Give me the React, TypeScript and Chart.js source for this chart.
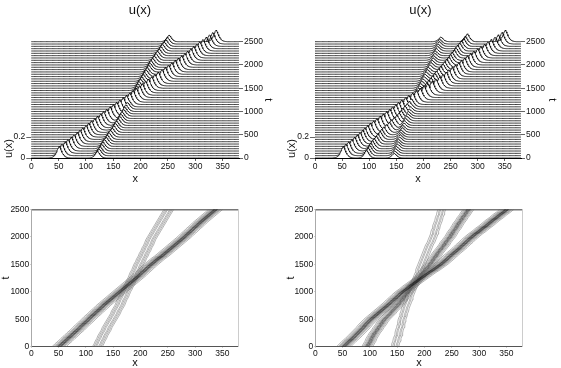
import React, { useEffect, useRef } from "react";
import { Chart, registerables } from "chart.js";

Chart.register(...registerables);

const xTicks = [0, 50, 100, 150, 200, 250, 300, 350];
const tTicks = [0, 500, 1000, 1500, 2000, 2500];
const uTicks = [0, 0.2];
const times = [
  0, 50, 100, 150, 200, 250, 300, 350, 400, 450, 500, 550, 600, 650, 700, 750, 800, 850, 900, 950, 1000, 1050, 1100, 1150, 1200, 1250,
  1300, 1350, 1400, 1450, 1500, 1550, 1600, 1650, 1700, 1750, 1800, 1850, 1900, 1950, 2000, 2050, 2100, 2150, 2200, 2250, 2300, 2350, 2400, 2450, 2500,
];

// Soliton centres, one value per time
const leftBig = [
  51, 56, 62, 67, 73, 78, 84, 89, 94, 100, 105, 110, 116, 121, 127, 132, 138, 144, 150, 156, 162, 168, 174, 180, 186, 192,
  198, 203, 209, 214, 220, 226, 232, 239, 245, 251, 257, 263, 269, 275, 281, 286, 292, 297, 303, 308, 314, 320, 326, 332, 338,
];
const leftSmall = [
  121, 124, 126, 129, 131, 134, 137, 139, 142, 145, 148, 151, 154, 156, 159, 162, 164, 166, 169, 171, 173, 176, 178, 181, 183, 186,
  188, 190, 193, 195, 197, 200, 202, 205, 207, 210, 212, 215, 217, 219, 222, 225, 228, 231, 234, 237, 240, 243, 246, 249, 252,
];
const rightBig = [
  52, 57, 62, 68, 73, 78, 83, 88, 92, 97, 102, 108, 114, 120, 126, 132, 138, 143, 149, 154, 160, 167, 173, 180, 187, 194,
  201, 208, 216, 223, 230, 236, 242, 247, 253, 259, 265, 270, 276, 281, 287, 293, 300, 306, 313, 319, 325, 332, 338, 345, 351,
];
const rightMid = [
  95, 98, 101, 103, 106, 109, 113, 116, 120, 123, 127, 132, 137, 141, 146, 151, 155, 159, 162, 166, 170, 174, 178, 182, 186, 190,
  194, 198, 202, 206, 210, 214, 217, 221, 224, 228, 232, 236, 239, 243, 247, 250, 253, 257, 260, 263, 267, 270, 274, 277, 281,
];
const rightSmall = [
  146, 147, 149, 150, 152, 153, 154, 156, 157, 158, 159, 161, 162, 164, 165, 167, 169, 171, 172, 174, 176, 178, 180, 182, 184, 186,
  188, 190, 191, 193, 195, 197, 199, 201, 203, 205, 207, 209, 212, 214, 216, 218, 219, 221, 222, 224, 226, 227, 229, 230, 232,
];

// Pulse profile by distance from the centre (1 x-unit steps)
const wideProfile = [1, 0.93, 0.85, 0.74, 0.62, 0.5, 0.41, 0.33, 0.26, 0.2, 0.16, 0.12, 0.09, 0.07, 0.05, 0.04, 0.03, 0.02, 0.015, 0.01, 0.005, 0];
const narrowProfile = [1, 0.92, 0.82, 0.7, 0.58, 0.46, 0.36, 0.28, 0.21, 0.15, 0.11, 0.08, 0.05, 0.03, 0.02, 0.01, 0];

// Contour-line distances from the ridge
const bigOffsets = [-13, -10, -8, -6.5, -5, -3.8, -2.7, -1.7, -0.8, 0.8, 1.7, 2.7, 3.8, 5, 6.5, 8, 10, 13];
const midOffsets = [-10, -7.5, -5.5, -3.6, -2, -0.8, 0.8, 2, 3.6, 5.5, 7.5, 10];
const smallOffsets = [-9, -6.5, -4, -1.8, 1.8, 4, 6.5, 9];
const faintOffsets = [-7, -4, -1.8, 1.8, 4, 7];

const leftTracks = [
  { centres: leftBig, amp: 0.11, profile: wideProfile, offsets: bigOffsets, core: 5 },
  { centres: leftSmall, amp: 0.064, profile: narrowProfile, offsets: smallOffsets, core: 0 },
];
const rightTracks = [
  { centres: rightBig, amp: 0.11, profile: wideProfile, offsets: bigOffsets, core: 5 },
  { centres: rightMid, amp: 0.075, profile: narrowProfile, offsets: midOffsets, core: 4 },
  { centres: rightSmall, amp: 0.045, profile: narrowProfile, offsets: faintOffsets, core: 0 },
];

const U_TO_T = 2257;
const X_MAX = 380;
const FONT = "'Liberation Sans', Arial, sans-serif";
const INK = "#111";

function waterfallDatasets(tracks: typeof leftTracks) {
  return times.map((t, row) => {
    const data = [];
    for (let x = 0; x <= X_MAX; x++) {
      let u = 0;
      for (const tr of tracks) {
        const d = Math.abs(x - tr.centres[row]);
        if (d < tr.profile.length) u = Math.max(u, tr.amp * tr.profile[d]);
      }
      data.push({ x, y: t + u * U_TO_T });
    }
    return {
      data,
      yAxisID: "t",
      borderColor: "#000",
      borderWidth: 0.8,
      pointRadius: 0,
      tension: 0,
      clip: false,
      fill: { value: t },
      backgroundColor: "#fff",
    };
  });
}

function contourDatasets(tracks: typeof leftTracks) {
  const out: any[] = [];
  for (const tr of tracks) {
    for (const off of tr.offsets) {
      const inCore = Math.abs(off) < tr.core;
      out.push({
        data: times.map((t, i) => ({ x: tr.centres[i] + off, y: t })),
        yAxisID: "y",
        borderColor: inCore ? "#222" : "#666",
        borderWidth: inCore ? 0.55 : 0.5,
        pointRadius: 0,
        tension: 0,
        fill: false,
      });
    }
  }
  return out;
}

const listTicks = (list: number[]) => (s: any) => {
  s.ticks = list.map((value) => ({ value }));
};
const fixW = (w: number) => (s: any) => {
  s.width = w;
};
const fixH = (h: number) => (s: any) => {
  s.height = h;
};
const plainLabel = (v: any) => String(v);
const tickFont = { family: FONT, size: 8.5 };

function waterfallConfig(tracks: typeof leftTracks, p: any) {
  return {
    type: "line",
    data: { datasets: waterfallDatasets(tracks) },
    options: {
      animation: false,
      responsive: false,
      devicePixelRatio: 1,
      layout: { padding: 0 },
      plugins: {
        legend: { display: false },
        tooltip: { enabled: false },
        title: {
          display: true,
          text: "u(x)",
          color: "#111",
          font: { family: FONT, size: 13, weight: "normal", lineHeight: 1.2 },
          padding: { top: 2.2, bottom: 23.9 },
        },
      },
      scales: {
        x: {
          type: "linear",
          min: 0,
          max: X_MAX,
          afterBuildTicks: listTicks(xTicks),
          afterFit: fixH(32),
          border: { color: "#000", width: 1 },
          grid: { drawOnChartArea: false, tickLength: 3, color: "#666" },
          ticks: { color: INK, font: tickFont, padding: 1, maxRotation: 0, autoSkip: false, callback: plainLabel },
          title: { display: true, text: "x", color: INK, font: { family: FONT, size: 11 }, padding: { top: 0, bottom: 4.4 } },
        },
        u: {
          axis: "y",
          type: "linear",
          position: "left",
          min: 0,
          max: 2500 / U_TO_T,
          afterBuildTicks: listTicks(uTicks),
          afterFit: fixW(p.left),
          border: { display: false },
          grid: { drawOnChartArea: false, tickLength: 5, color: "#666" },
          ticks: { color: INK, font: tickFont, padding: 1, autoSkip: false, callback: plainLabel },
          title: { display: true, text: "u(x)", align: "start", color: INK, font: { family: FONT, size: 11 }, padding: { top: p.uPad, bottom: 0 } },
        },
        t: {
          axis: "y",
          type: "linear",
          position: "right",
          min: 0,
          max: 2500,
          afterBuildTicks: listTicks(tTicks),
          afterFit: fixW(p.right),
          border: { display: false },
          grid: { drawOnChartArea: false, tickLength: 4, color: "#666" },
          ticks: { color: INK, font: tickFont, padding: 1, autoSkip: false, callback: plainLabel },
          title: { display: true, text: "t", color: INK, font: { family: FONT, size: 11 }, padding: { top: p.tPad, bottom: 0 } },
        },
      },
    },
  };
}

function contourConfig(tracks: typeof leftTracks, p: any) {
  return {
    type: "line",
    data: { datasets: contourDatasets(tracks) },
    options: {
      animation: false,
      responsive: false,
      devicePixelRatio: 1,
      layout: { padding: { top: 19.3 } },
      plugins: { legend: { display: false }, tooltip: { enabled: false }, title: { display: false } },
      scales: {
        x: {
          type: "linear",
          min: 0,
          max: X_MAX,
          afterBuildTicks: listTicks(xTicks),
          afterFit: fixH(21.3),
          border: { color: "#555", width: 1 },
          grid: { drawOnChartArea: false, tickLength: 1, color: "#bbb" },
          ticks: { color: INK, font: tickFont, padding: 1, maxRotation: 0, autoSkip: false, callback: plainLabel },
          title: { display: true, text: "x", color: INK, font: { family: FONT, size: 11, lineHeight: 1 }, padding: { top: 0, bottom: 0 } },
        },
        xTop: {
          axis: "x",
          type: "linear",
          position: "top",
          min: 0,
          max: X_MAX,
          afterFit: fixH(0),
          border: { color: "#777", width: 1.5 },
          grid: { display: false },
          ticks: { display: false },
        },
        y: {
          type: "linear",
          position: "left",
          min: 0,
          max: 2500,
          afterBuildTicks: listTicks(tTicks),
          afterFit: fixW(p.left),
          border: { color: "#aaa", width: 1 },
          grid: { drawOnChartArea: false, tickLength: 1, color: "#bbb" },
          ticks: { color: INK, font: tickFont, padding: 1, autoSkip: false, callback: plainLabel },
          title: { display: true, text: "t", color: INK, font: { family: FONT, size: 11, lineHeight: 1 }, padding: { top: p.tPad, bottom: 0 } },
        },
        yRight: {
          axis: "y",
          type: "linear",
          position: "right",
          min: 0,
          max: 2500,
          afterFit: fixW(p.right),
          border: { color: "#ccc", width: 1 },
          grid: { display: false },
          ticks: { display: false },
        },
      },
    },
  };
}

const panels = [
  { left: 0, top: 0, w: 280, h: 190, config: () => waterfallConfig(leftTracks, { left: 31.3, right: 41, uPad: 2.4, tPad: 5.4 }) },
  { left: 280, top: 0, w: 281, h: 190, config: () => waterfallConfig(rightTracks, { left: 35, right: 40, uPad: 5, tPad: 2.7 }) },
  { left: 0, top: 190, w: 280, h: 178, config: () => contourConfig(leftTracks, { left: 31.3, right: 41.3, tPad: 0.5 }) },
  { left: 280, top: 190, w: 281, h: 178, config: () => contourConfig(rightTracks, { left: 35.3, right: 38.3, tPad: 5 }) },
];

function Panel({ left, top, w, h, config }: (typeof panels)[number]) {
  const ref = useRef<HTMLCanvasElement>(null);
  useEffect(() => {
    const chart = new Chart(ref.current as HTMLCanvasElement, config() as any);
    return () => chart.destroy();
  }, []);
  return <canvas ref={ref} width={w} height={h} style={{ position: "absolute", left, top, width: w, height: h }} />;
}

export default function App() {
  return (
    <div style={{ position: "absolute", left: 0, top: 0, width: 561, height: 368, background: "#fff", overflow: "hidden" }}>
      {panels.map((p, i) => (
        <Panel key={i} {...p} />
      ))}
    </div>
  );
}
